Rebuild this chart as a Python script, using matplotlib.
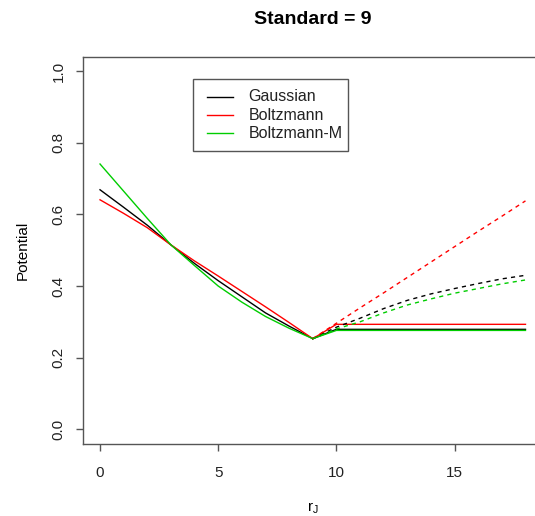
import matplotlib
matplotlib.use("Agg")
import matplotlib.pyplot as plt
from matplotlib.lines import Line2D
from matplotlib.patches import Rectangle

plt.rcParams['font.family'] = ['Liberation Sans', 'DejaVu Sans']

# ---- data ----
x_left = [0, 1, 2, 3, 4, 5, 6, 7, 8, 9]
gauss_left = [0.669, 0.62, 0.57, 0.515, 0.463, 0.415, 0.37, 0.325, 0.288, 0.253]
boltz_left = [0.641, 0.603, 0.563, 0.515, 0.47, 0.428, 0.385, 0.342, 0.298, 0.253]
boltzm_left = [0.741, 0.665, 0.589, 0.515, 0.457, 0.40, 0.355, 0.315, 0.282, 0.253]

x_right = [9, 10, 11, 12, 13, 14, 15, 16, 17, 18]
gauss_flat = [0.253, 0.279, 0.279, 0.279, 0.279, 0.279, 0.279, 0.279, 0.279, 0.279]
boltz_flat = [0.253, 0.293, 0.293, 0.293, 0.293, 0.293, 0.293, 0.293, 0.293, 0.293]
boltzm_flat = [0.253, 0.276, 0.276, 0.276, 0.276, 0.276, 0.276, 0.276, 0.276, 0.276]

gauss_dash = [0.253, 0.285, 0.31, 0.337, 0.36, 0.378, 0.393, 0.407, 0.42, 0.43]
boltz_dash = [0.253, 0.296, 0.339, 0.381, 0.424, 0.467, 0.51, 0.553, 0.595, 0.638]
boltzm_dash = [0.253, 0.28, 0.30, 0.325, 0.347, 0.364, 0.38, 0.393, 0.406, 0.417]

labels = ["Gaussian", "Boltzmann", "Boltzmann-M"]
colors = ["black", "red", "#00CD00"]
x_ticks = [0, 5, 10, 15]
y_ticks = [0.0, 0.2, 0.4, 0.6, 0.8, 1.0]

W, H = 535, 516
fig = plt.figure(figsize=(W / 100, H / 100), dpi=100)
left, right, bottom, top = 83, 542.5, 443.5, 57
ax = fig.add_axes([left / W, 1 - bottom / H, (right - left) / W, (bottom - top) / H])

lw = 1.0
for ys, c in [(gauss_left, colors[0]), (boltz_left, colors[1]), (boltzm_left, colors[2])]:
    ax.plot(x_left, ys, color=c, lw=lw)
for ys, c in [(gauss_flat, colors[0]), (boltz_flat, colors[1]), (boltzm_flat, colors[2])]:
    ax.plot(x_right, ys, color=c, lw=lw)
for ys, c in [(gauss_dash, colors[0]), (boltz_dash, colors[1]), (boltzm_dash, colors[2])]:
    ax.plot(x_right, ys, color=c, lw=lw, dashes=(3, 3))

ax.set_xlim(-0.72, 18.72)
ax.set_ylim(-0.04, 1.04)
ax.set_xticks(x_ticks)
ax.set_yticks(y_ticks)
ax.set_yticklabels([f"{v:.1f}" for v in y_ticks], rotation=90, va='center')
ax.tick_params(direction='out', length=5, width=1, color='#555555', labelsize=11,
               labelcolor='#222222')
ax.tick_params(axis='y', pad=7.5)
ax.tick_params(axis='x', pad=11)
for s in ax.spines.values():
    s.set_color('#555555')
    s.set_linewidth(1)

ax.set_xlabel(r"$\mathregular{r_J}$", fontsize=11, labelpad=15)
ax.set_ylabel("Potential", fontsize=11, labelpad=16)
fig.text(313 / W, 1 - 19 / H, "Standard = 9", ha='center', va='center',
         fontsize=14, fontweight='bold')

# legend drawn in figure pixel positions (R-style box)
def fx(px):
    return px / W

def fy(py):
    return 1 - py / H

fig.patches.append(Rectangle((fx(193.3), fy(151)), fx(348.3) - fx(193.3), fy(79.3) - fy(151),
                             transform=fig.transFigure, fill=False, edgecolor='#555555', lw=1))
rows = [96.7, 115, 133.3]
for lab, c, ry in zip(labels, colors, rows):
    fig.lines.append(Line2D([fx(207.3), fx(233.3)], [fy(ry), fy(ry)], color=c, lw=lw,
                            transform=fig.transFigure))
    fig.text(fx(248.3), fy(ry), lab, ha='left', va='center', fontsize=11.5, color='#222222')

fig.savefig("out.png", dpi=100)
